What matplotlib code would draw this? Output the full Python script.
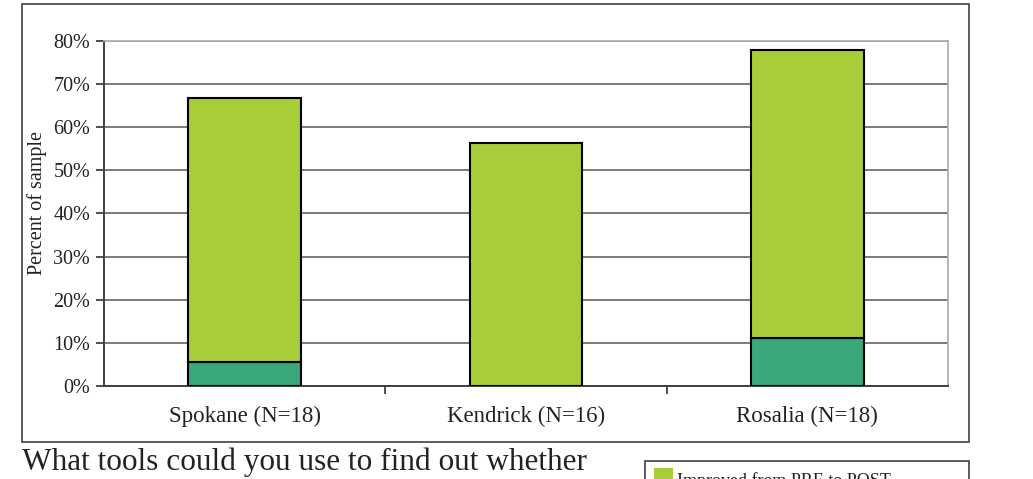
import numpy as np
import matplotlib.pyplot as plt
from matplotlib.patches import Rectangle
from matplotlib.ticker import FuncFormatter

sites = ["Spokane (N=18)", "Kendrick (N=16)", "Rosalia (N=18)"]
improved_both = [5.6, 0.0, 11.1]        # dark segment
improved_pre_post = [61.1, 56.25, 66.7]  # light green segment
legend_label = "Improved from PRE to POST"
question = "What tools could you use to find out whether"

light_green = "#a8cd3a"
dark_green = "#3aa87a"

plt.rcParams["font.family"] = ["Liberation Serif", "DejaVu Serif"]

fig = plt.figure(figsize=(10.33, 4.79), dpi=100)

# outer chart frame
fig.patches.append(Rectangle((0.0213, 0.0772), 0.9167, 0.9144, transform=fig.transFigure,
                             fill=False, edgecolor="#404040", linewidth=1.2))

ax = fig.add_axes([0.1007, 0.1942, 0.817, 0.7208])
x = np.arange(len(sites))
w = 0.40
ax.bar(x, improved_both, w, color=dark_green, edgecolor="black", linewidth=1.5, zorder=3)
ax.bar(x, improved_pre_post, w, bottom=improved_both, color=light_green,
       edgecolor="black", linewidth=1.5, zorder=3)

ax.set_xlim(-0.5, 2.5)
ax.set_ylim(0, 80)
ax.set_yticks(np.arange(0, 81, 10))
ax.yaxis.set_major_formatter(FuncFormatter(lambda v, _: f"{v:.0f}%"))
ax.grid(axis="y", color="#707070", linewidth=1.3, zorder=0)
ax.set_axisbelow(True)

ax.set_xticks(x)
ax.set_xticklabels(sites, fontsize=16.5, color="#222222")
ax.tick_params(axis="x", length=0, pad=14)
ax.set_xticks([0.5, 1.5], minor=True)
ax.tick_params(axis="x", which="minor", length=6, width=1.3, color="#404040")
ax.tick_params(axis="y", labelsize=14.5, length=6, width=1.3, color="#404040",
               labelcolor="#222222", pad=4)
ax.set_ylabel("Percent of sample", fontsize=14.5, color="#222222")
ax.yaxis.set_label_coords(-0.067, 0.53)

for side in ["top", "right"]:
    ax.spines[side].set_color("#b0b0b0")
    ax.spines[side].set_linewidth(1.3)
for side in ["left", "bottom"]:
    ax.spines[side].set_color("#404040")
    ax.spines[side].set_linewidth(1.4)

fig.text(0.0213, 0.004, question, fontsize=22.5, color="#222222", ha="left", va="bottom")

# legend box, running off the bottom edge
fig.patches.append(Rectangle((0.6244, -0.05), 0.314, 0.088, transform=fig.transFigure,
                             fill=False, edgecolor="#404040", linewidth=1.2))
fig.patches.append(Rectangle((0.633, -0.02), 0.0185, 0.044, transform=fig.transFigure,
                             facecolor=light_green, edgecolor="none"))
fig.text(0.6555, -0.022, legend_label, fontsize=13, color="#222222", ha="left", va="bottom")

fig.savefig("out.png", dpi=100)
